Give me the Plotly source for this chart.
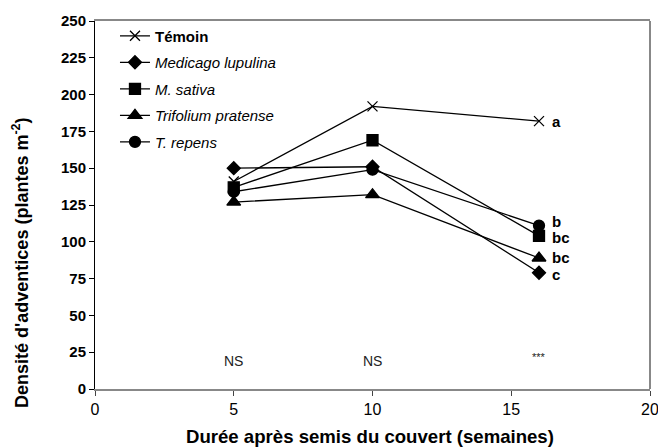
import plotly.graph_objects as go

weeks = [5, 10, 16]
series_names = ["<b>Témoin</b>", "<i>Medicago lupulina</i>", "<i>M. sativa</i>",
                "<i>Trifolium pratense</i>", "<i>T. repens</i>"]
temoin = [141, 192, 182]
medicago_lupulina = [150, 151, 79]
m_sativa = [137, 169, 104]
trifolium_pratense = [127, 132, 89]
t_repens = [134, 149, 111]
series_values = [temoin, medicago_lupulina, m_sativa, trifolium_pratense, t_repens]
symbols = ["x-thin-open", "diamond", "square", "triangle-up", "circle"]
sizes = [10, 10, 11, 12, 11]

end_letters = ["a", "c", "bc", "bc", "b"]
letter_y = [182, 78, 103, 89, 114]
signif_x = [5, 10, 16]
signif_text = ["NS", "NS", "***"]
signif_y = [19, 19, 22]

x_title = "Durée après semis du couvert (semaines)"
y_title = "Densité d'adventices (plantes m<sup>-2</sup>)"

fig = go.Figure()
for i, (name, vals) in enumerate(zip(series_names, series_values)):
    fig.add_trace(go.Scatter(
        x=weeks, y=vals, name=name, mode="lines+markers",
        line=dict(color="black", width=1.3),
        marker=dict(symbol=symbols[i], size=sizes[i], color="black",
                    line=dict(color="black", width=1.3)),
        legendgroup=f"g{i}",
    ))

for t, y in zip(end_letters, letter_y):
    fig.add_annotation(x=16.4, y=y, text=f"<b>{t}</b>", showarrow=False,
                       xanchor="left", yanchor="middle",
                       font=dict(family="Liberation Sans, Arial", size=15, color="black"))
for x, t, y in zip(signif_x, signif_text, signif_y):
    fig.add_annotation(x=x, y=y, text=t, showarrow=False,
                       xanchor="center", yanchor="middle",
                       font=dict(family="Liberation Sans, Arial",
                                 size=14 if t == "NS" else 11, color="#222"))

# axis titles placed as in the reference
fig.add_annotation(xref="paper", yref="paper", x=0.4955, y=-0.13, text=x_title,
                   showarrow=False, xanchor="center", yanchor="middle",
                   font=dict(size=18.6, weight="bold", color="black"))
fig.add_annotation(xref="paper", yref="paper", x=-0.133, y=0.343, text=y_title,
                   showarrow=False, xanchor="center", yanchor="middle", textangle=-90,
                   font=dict(size=18, weight="bold", color="black"))

# right border
fig.add_shape(type="line", xref="paper", yref="paper", x0=1, x1=1, y0=0, y1=1,
              line=dict(color="#888", width=2))

fig.update_layout(
    width=658, height=440,
    margin=dict(l=87, r=16, t=13, b=59, autoexpand=False),
    paper_bgcolor="white", plot_bgcolor="white",
    font=dict(family="Liberation Sans, Arial", color="black"),
    showlegend=True,
    legend=dict(x=0.036, y=1.004, xanchor="left", yanchor="top",
                bgcolor="rgba(0,0,0,0)", font=dict(size=15),
                traceorder="grouped", tracegroupgap=4, itemwidth=30),
    xaxis=dict(range=[0, 20], tickvals=[0, 5, 10, 15, 20], showgrid=False,
               zeroline=False, showline=True, linecolor="#888", linewidth=2,
               mirror=True, ticks="outside", ticklen=5, tickcolor="#444",
               tickfont=dict(size=16), automargin=False),
    yaxis=dict(range=[0, 250], tickvals=list(range(0, 251, 25)), showgrid=False,
               zeroline=False, showline=True, linecolor="black", linewidth=1,
               ticks="outside", ticklen=5, tickcolor="black",
               tickfont=dict(size=15, weight="bold"), automargin=False),
)

fig.write_html("out.html")
